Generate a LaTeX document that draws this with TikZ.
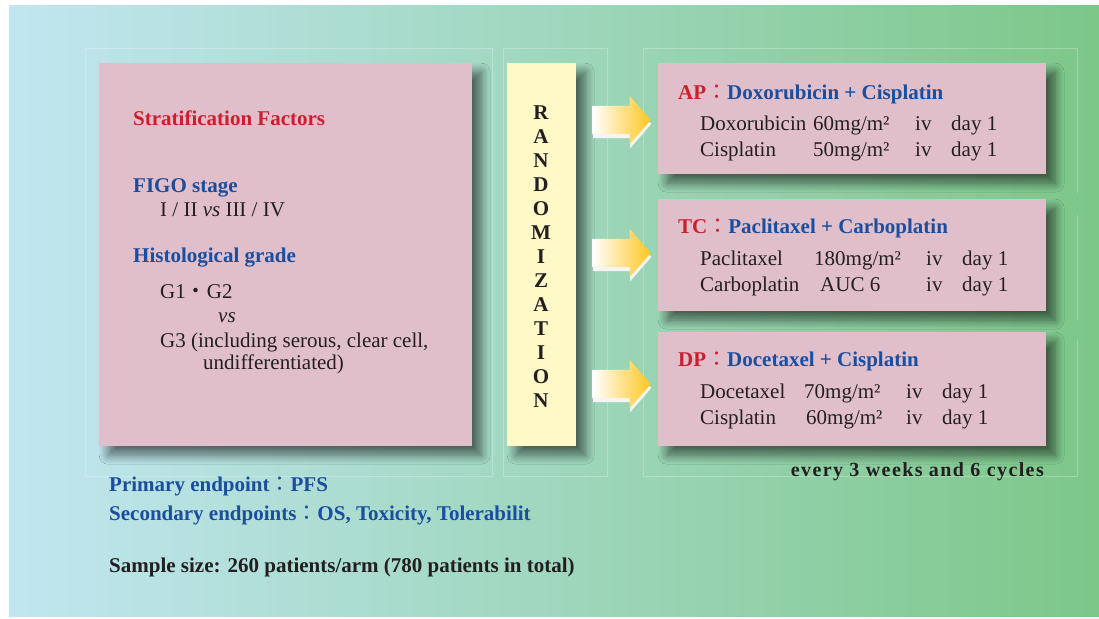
\documentclass[tikz,border=0pt]{standalone}
\usepackage{fontspec}
\setmainfont{Liberation Serif}
\newfontfamily\cjk{Noto Sans CJK TC}
\newfontfamily\widebf[LetterSpace=7]{Liberation Serif}
\usetikzlibrary{shadows,shadows.blur,shapes.arrows}

\definecolor{bgL}{HTML}{C1E6F1}
\definecolor{bgR}{HTML}{7DC789}
\definecolor{pinkbox}{HTML}{E0BFCA}
\definecolor{yellowbox}{HTML}{FEF9C6}
\definecolor{redtxt}{HTML}{C8202F}
\definecolor{bluetxt}{HTML}{1B4E9F}
\definecolor{darktxt}{HTML}{231F20}
\definecolor{gold}{HTML}{FFC61E}

\newcommand\putxt[5][]{\node[txt,#1] (#2) at (#3,-#4) {#5};}
\newcommand\fcolon{{\cjk\mdseries ：}}

\tikzset{
  panel/.style={rectangle, inner sep=0pt, anchor=north west,
    blur shadow={shadow xshift=9pt, shadow yshift=-9pt, shadow blur radius=9pt, shadow opacity=55, shadow blur steps=12}},
  pinkpanel/.style={panel, fill=pinkbox},
  yellowpanel/.style={panel, fill=yellowbox},
  txt/.style={inner sep=0pt, anchor=base west, text=darktxt, font=\fontsize{21}{24}\selectfont},
  hd/.style={font=\fontsize{21}{24}\selectfont\bfseries},
  redhd/.style={hd, text=redtxt},
  bluehd/.style={hd, text=bluetxt},
  randl/.style={inner sep=0pt, anchor=base, text=darktxt, font=\fontsize{21}{24}\selectfont\bfseries},
  frameline/.style={draw=white, draw opacity=0.25, line width=0.8pt},
  blockarrow/.style={single arrow, anchor=tip, inner xsep=0pt, inner ysep=14pt,
    minimum height=58pt, single arrow head extend=10pt, single arrow tip angle=98,
    left color=white, right color=gold, draw=none,
    general shadow={fill=white!92!gray, shadow yshift=-4pt, shadow xshift=0.5pt}}
}

\begin{document}
\begin{tikzpicture}[x=1pt,y=1pt]
\useasboundingbox (0,0) rectangle (1099,-618);
\fill[white] (0,0) rectangle (1099,-618);
\shade[left color=bgL, right color=bgR] (9,-6) rectangle (1099,-616);

% faint frames
\draw[frameline] (85,-48) rectangle (492,-476);
\draw[frameline] (503,-48) rectangle (607,-476);
\draw[frameline] (1077,-193) -- (1077,-48) -- (643,-48) -- (643,-476) -- (1077,-476) -- (1077,-340);
\draw[frameline] (1077,-215) -- (1077,-320);

% panels
\node[pinkpanel, minimum width=373pt, minimum height=383pt] (strat) at (99,-63) {};
\node[yellowpanel, minimum width=69pt, minimum height=383pt] (rand) at (507,-63) {};
\node[pinkpanel, minimum width=388pt, minimum height=111pt] (ap) at (658,-63) {};
\node[pinkpanel, minimum width=388pt, minimum height=112pt] (tc) at (658,-199) {};
\node[pinkpanel, minimum width=388pt, minimum height=114pt] (dp) at (658,-332) {};

% block arrows
\node[blockarrow] (arrAP) at (651,-120) {};
\node[blockarrow] (arrTC) at (651,-253) {};
\node[blockarrow] (arrDP) at (651,-384) {};

% RANDOMIZATION
\foreach \l [count=\i] in {R,A,N,D,O,M,I,Z,A,T,I,O,N}
  \node[randl] (r\i) at (541,{-119-24*(\i-1)}) {\l};

% stratification text
\putxt[redhd]{sf}{133}{125}{Stratification Factors}
\putxt[bluehd]{figo}{133}{192}{FIGO stage}
\putxt{figov}{160}{216}{I / II \textit{vs} III / IV}
\putxt[bluehd]{hist}{133}{262}{Histological grade}
\putxt{g12}{160}{298}{G1{\cjk ・}G2}
\putxt{vs}{218}{322}{\textit{vs}}
\putxt{g3}{160}{347}{G3 (including serous, clear cell,}
\putxt{undiff}{203}{369}{undifferentiated)}

% endpoints
\putxt[bluehd]{prim}{109}{491}{Primary endpoint\fcolon PFS}
\putxt[bluehd]{sec}{109}{520}{Secondary endpoints\fcolon OS, Toxicity, Tolerabilit}
\putxt[hd]{sample}{109}{572}{Sample size: 260 patients/arm (780 patients in total)}

% AP
\putxt[hd]{aph}{678}{99}{\textcolor{redtxt}{AP\fcolon}\textcolor{bluetxt}{Doxorubicin + Cisplatin}}
\putxt{ap1a}{700}{130}{Doxorubicin}
\putxt{ap1b}{813}{130}{60mg/m²}
\putxt{ap1c}{915}{130}{iv}
\putxt{ap1d}{951}{130}{day 1}
\putxt{ap2a}{700}{156}{Cisplatin}
\putxt{ap2b}{813}{156}{50mg/m²}
\putxt{ap2c}{915}{156}{iv}
\putxt{ap2d}{951}{156}{day 1}

% TC
\putxt[hd]{tch}{678}{233}{\textcolor{redtxt}{TC\fcolon}\textcolor{bluetxt}{Paclitaxel + Carboplatin}}
\putxt{tc1a}{700}{265}{Paclitaxel}
\putxt{tc1b}{814}{265}{180mg/m²}
\putxt{tc1c}{926}{265}{iv}
\putxt{tc1d}{962}{265}{day 1}
\putxt{tc2a}{700}{291}{Carboplatin}
\putxt{tc2b}{820}{291}{AUC 6}
\putxt{tc2c}{926}{291}{iv}
\putxt{tc2d}{962}{291}{day 1}

% DP
\putxt[hd]{dph}{678}{366}{\textcolor{redtxt}{DP\fcolon}\textcolor{bluetxt}{Docetaxel + Cisplatin}}
\putxt{dp1a}{700}{398}{Docetaxel}
\putxt{dp1b}{804}{398}{70mg/m²}
\putxt{dp1c}{906}{398}{iv}
\putxt{dp1d}{942}{398}{day 1}
\putxt{dp2a}{700}{424}{Cisplatin}
\putxt{dp2b}{806}{424}{60mg/m²}
\putxt{dp2c}{906}{424}{iv}
\putxt{dp2d}{942}{424}{day 1}

\putxt[anchor=base east, font=\fontsize{20}{24}\selectfont\widebf\bfseries]{cycles}{1044}{476}{every 3 weeks and 6 cycles}
\end{tikzpicture}
\end{document}
